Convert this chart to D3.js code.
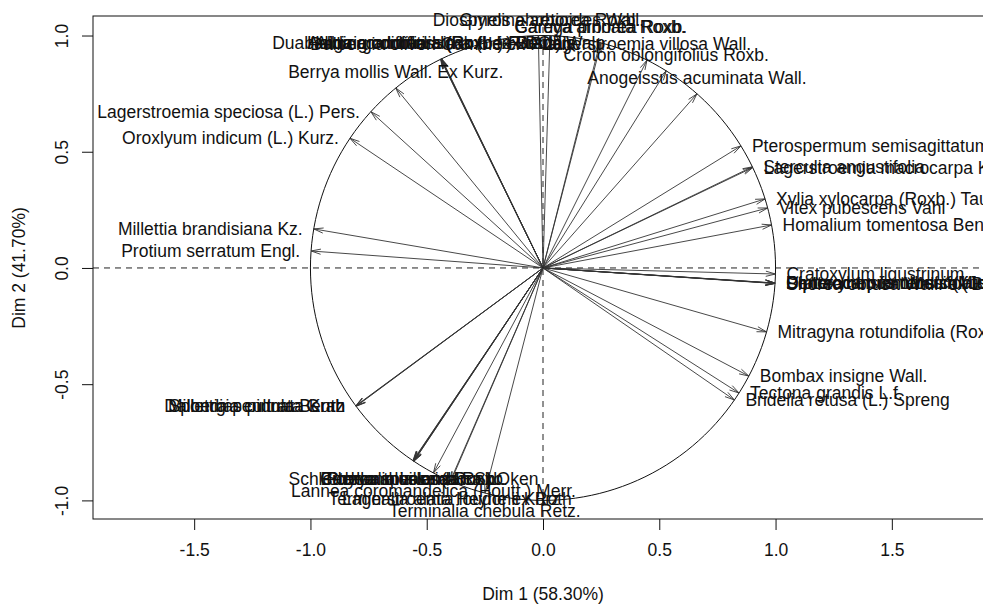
<!DOCTYPE html>
<html><head><meta charset="utf-8">
<script src="https://cdn.jsdelivr.net/npm/d3@7"></script>
<style>
body{margin:0;background:#fff;}
svg text{font-family:Arial,"Liberation Sans",sans-serif;fill:#111;}
</style>
</head><body>
<svg id="chart" width="983" height="604"></svg>
<script>
// ---- data (variable coordinates on Dim 1 / Dim 2) ----
const species = [
  "Lagerstroemia speciosa (L.) Pers.",
  "Oroxlyum indicum (L.) Kurz.",
  "Millettia brandisiana Kz.",
  "Protium serratum Engl.",
  "Millettia pendula Benth",
  "Dalbergia cultrata Grah",
  "Spondias pinnata Kurz",
  "Berrya mollis Wall. Ex Kurz.",
  "Duabanga grandiflora (Roxb. ex DC.) Walp.",
  "Albizia odoratissima (L.f.) Benth.",
  "Adina cordifolia Hook.f. ex Brandis",
  "Haldina cordifolia (Roxb.) Ridsdale",
  "Dalbergia oliveri Gamble ex Prain",
  "Diospyros ehretioides Wall.",
  "Gmelina arborea Roxb.",
  "Garuga pinnata Roxb.",
  "Careya arborea Roxb.",
  "Lagerstroemia villosa Wall.",
  "Croton oblongifolius Roxb.",
  "Anogeissus acuminata Wall.",
  "Pterospermum semisagittatum Ham.",
  "Sterculia angustifolia",
  "Lagerstroemia macrocarpa Kurz",
  "Xylia xylocarpa (Roxb.) Taub.",
  "Vitex pubescens Vahl",
  "Homalium tomentosa Benth.",
  "Cratoxylum ligustrinum",
  "Dipterocarpus tuberculatus Roxb.",
  "Dipterocarpus obtusifolius Teijsm. ex Miq.",
  "Pentacme siamensis (Miq.) Kurz",
  "Shorea obtusa Wall. ex Blume",
  "Cratoxylum formosum (Jack) Dyer",
  "Mitragyna rotundifolia (Roxb.) Kuntze",
  "Bombax insigne Wall.",
  "Tectona grandis L.f.",
  "Bridelia retusa (L.) Spreng",
  "Schleichera oleosa (Lour.) Oken",
  "Phyllanthus emblica L.",
  "Sterculia villosa Roxb.",
  "Careya sphaerica Roxb.",
  "Buchanania lanzan Spr.",
  "Lannea coromandelica (Houtt.) Merr.",
  "Terminalia alata Heyne ex Roth",
  "Lagerstroemia loudonii Kurz",
  "Terminalia chebula Retz."
];
const dim1 = [
  -0.740, -0.830, -0.986, -0.997,
  -0.804, -0.803, -0.805,
  -0.633,
  -0.438, -0.437, -0.439, -0.436, -0.440,
  -0.020, 0.030,
  0.245, 0.250,
  0.447, 0.530, 0.662,
  0.851, 0.900, 0.902,
  0.955, 0.966, 0.983,
  0.9997, 0.998, 0.9978, 0.998, 0.9977, 0.9979,
  0.961, 0.885, 0.843, 0.823,
  -0.557, -0.556, -0.558, -0.555, -0.559,
  -0.471, -0.399, -0.396, -0.250
];
const dim2 = [
  0.672, 0.558, 0.168, 0.073,
  -0.594, -0.595, -0.593,
  0.774,
  0.899, 0.900, 0.898, 0.9005, 0.897,
  0.9998, 0.9995,
  0.970, 0.968,
  0.894, 0.848, 0.749,
  0.525, 0.435, 0.432,
  0.297, 0.258, 0.185,
  -0.026, -0.065, -0.066, -0.065, -0.067, -0.066,
  -0.275, -0.465, -0.538, -0.568,
  -0.830, -0.831, -0.829, -0.832, -0.828,
  -0.882, -0.917, -0.918, -0.968
];
const xTicks = [-1.5, -1.0, -0.5, 0.0, 0.5, 1.0, 1.5];
const yTicks = [-1.0, -0.5, 0.0, 0.5, 1.0];
const xTitle = "Dim 1 (58.30%)";
const yTitle = "Dim 2 (41.70%)";

// ---- layout ----
const svg = d3.select("#chart");
const pL = 93, pR = 993, pT = 16, pB = 519;
const x = d3.scaleLinear().domain([-1.935, 1.935]).range([pL, pR]);
const y = d3.scaleLinear().domain([-1.08, 1.084]).range([pB, pT]);
const FS = 17.5;

svg.append("defs").append("clipPath").attr("id", "clip")
  .append("rect").attr("x", pL).attr("y", pT).attr("width", pR - pL).attr("height", pB - pT);

const plot = svg.append("g").attr("clip-path", "url(#clip)");

// dashed reference lines
plot.append("line").attr("x1", pL).attr("x2", pR).attr("y1", y(0)).attr("y2", y(0))
  .attr("stroke", "#222").attr("stroke-width", 1).attr("stroke-dasharray", "6,5");
plot.append("line").attr("x1", x(0)).attr("x2", x(0)).attr("y1", pT).attr("y2", pB)
  .attr("stroke", "#222").attr("stroke-width", 1).attr("stroke-dasharray", "6,5");

// unit circle
const circ = d3.range(0, 361, 2).map(a => [Math.cos(a * Math.PI / 180), Math.sin(a * Math.PI / 180)]);
plot.append("path").attr("d", d3.line().x(d => x(d[0])).y(d => y(d[1]))(circ))
  .attr("fill", "none").attr("stroke", "#111").attr("stroke-width", 1);

// arrows + labels
const data = species.map((s, i) => ({ name: s, d1: dim1[i], d2: dim2[i] }));
const headLen = 10, headAng = 15 * Math.PI / 180;
data.forEach(d => {
  const x0 = x(0), y0 = y(0), x1 = x(d.d1), y1 = y(d.d2);
  const g = plot.append("g");
  g.append("line").attr("x1", x0).attr("y1", y0).attr("x2", x1).attr("y2", y1)
    .attr("stroke", "#333").attr("stroke-width", 0.9);
  const ang = Math.atan2(y1 - y0, x1 - x0);
  const p1 = [x1 - headLen * Math.cos(ang - headAng), y1 - headLen * Math.sin(ang - headAng)];
  const p2 = [x1 - headLen * Math.cos(ang + headAng), y1 - headLen * Math.sin(ang + headAng)];
  g.append("path").attr("d", `M${p1[0]},${p1[1]}L${x1},${y1}L${p2[0]},${p2[1]}`)
    .attr("fill", "none").attr("stroke", "#333").attr("stroke-width", 0.9);
  let tx = x1, ty = y1, anchor = "middle";
  if (Math.abs(d.d1) > Math.abs(d.d2)) {
    if (d.d1 >= 0) { anchor = "start"; tx = x1 + 11; } else { anchor = "end"; tx = x1 - 11; }
    ty = y1 + FS * 0.35;
  } else {
    if (d.d2 >= 0) { ty = y1 - 16 + FS * 0.35; } else { ty = y1 + 18 + FS * 0.35; }
  }
  svg.append("text").attr("x", tx).attr("y", ty).attr("text-anchor", anchor)
    .attr("font-size", FS).text(d.name);
});

// frame
svg.append("rect").attr("x", pL).attr("y", pT).attr("width", pR - pL).attr("height", pB - pT)
  .attr("fill", "none").attr("stroke", "#111").attr("stroke-width", 1);

// axes
const fmt = d => d3.format(".1f")(d).replace("\u2212", "-");
const xAxis = svg.append("g").attr("transform", `translate(0,${pB})`)
  .call(d3.axisBottom(x).tickValues(xTicks).tickFormat(fmt).tickSize(11).tickPadding(14));
const yAxis = svg.append("g").attr("transform", `translate(${pL},0)`)
  .call(d3.axisLeft(y).tickValues(yTicks).tickFormat(fmt).tickSize(11));
[xAxis, yAxis].forEach(a => {
  a.select(".domain").remove();
  a.selectAll(".tick line").attr("stroke", "#111");
  a.selectAll(".tick text").attr("font-size", 17.5).attr("fill", "#111")
    .attr("font-family", "Arial, 'Liberation Sans', sans-serif");
});
yAxis.selectAll(".tick text")
  .attr("x", null).attr("dy", "0.35em").attr("y", 0)
  .attr("text-anchor", "middle")
  .attr("transform", "translate(-31,0) rotate(-90)");

svg.append("text").attr("x", x(0)).attr("y", 600).attr("text-anchor", "middle")
  .attr("font-size", 17.5).text(xTitle);
svg.append("text").attr("transform", `translate(25,${y(0)}) rotate(-90)`).attr("text-anchor", "middle")
  .attr("font-size", 17.5).text(yTitle);
</script>
</body></html>
